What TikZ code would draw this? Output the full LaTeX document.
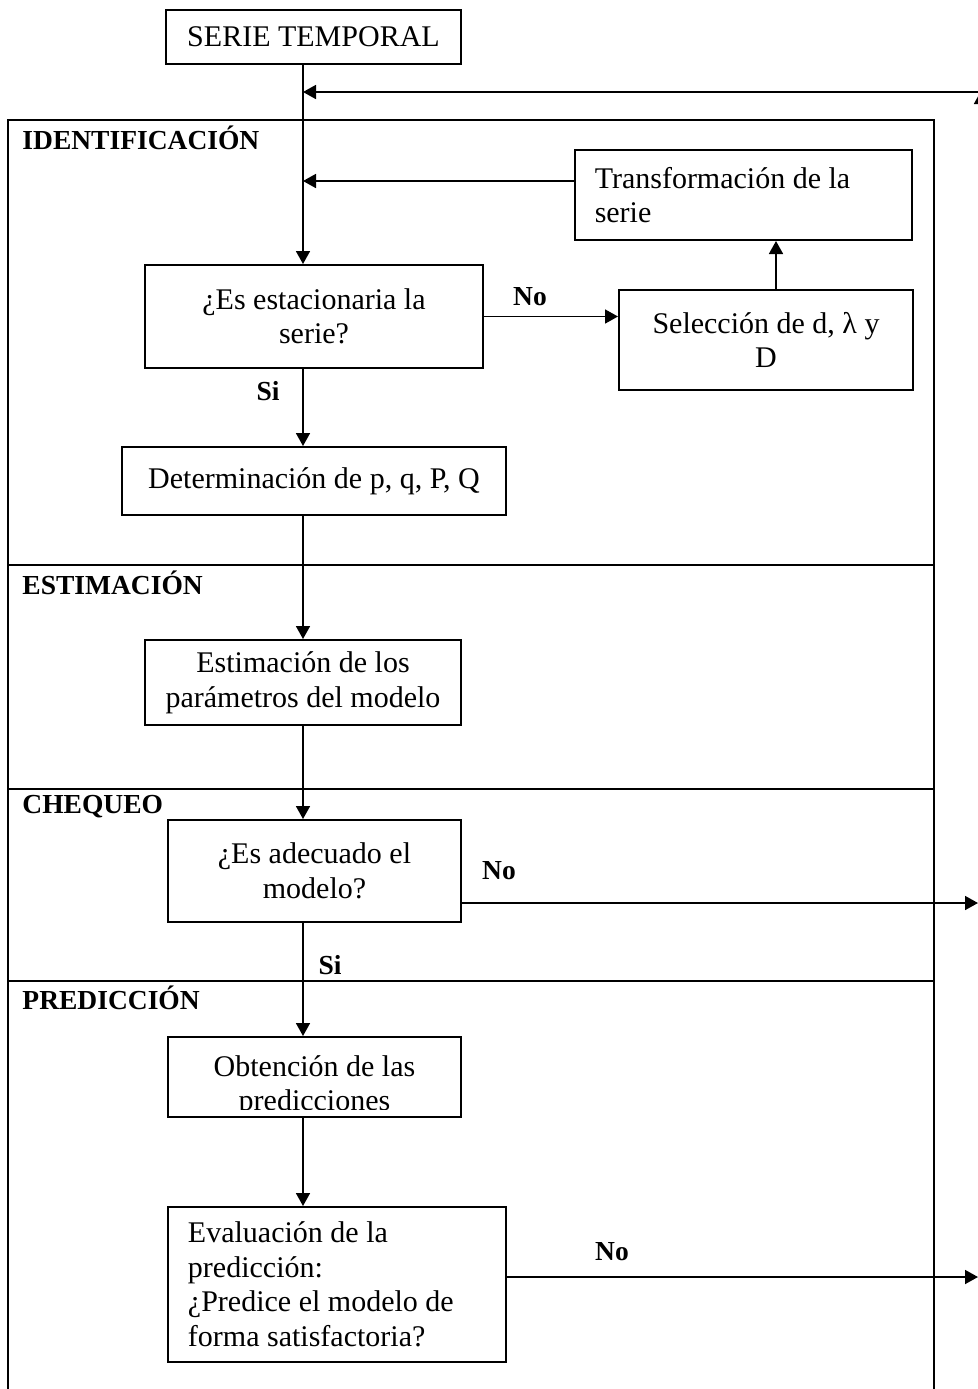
\documentclass[tikz,border=0pt]{standalone}
\usepackage{fontspec}
\setmainfont{Liberation Serif}
\usetikzlibrary{arrows.meta}
\tikzset{
  caja/.style={draw, line width=0.8pt, inner sep=0pt, align=center,
    font=\fontsize{12}{13.8}\selectfont},
  cajaizq/.style={caja, align=flush left, inner xsep=8pt},
  etapa/.style={anchor=west, inner sep=0pt, font=\fontsize{11}{13}\selectfont\bfseries},
  resp/.style={inner sep=0pt, font=\fontsize{11}{13}\selectfont\bfseries},
  flecha/.style={->, line width=0.7pt},
}
\begin{document}
\begin{tikzpicture}[x=0.4pt,y=-0.4pt,>={Triangle[length=5.2pt,width=5.6pt]}]
\useasboundingbox (0,0) rectangle (978,1389);
\clip (0,0) rectangle (978,1389);
% marco y etapas
\draw[line width=0.8pt] (8,1400) -- (8,120) -- (934,120) -- (934,1400);
\foreach \y in {565,789,981}
  \draw[line width=0.8pt] (8,\y) -- (934,\y);
\node[etapa] (ident) at (22,138) {IDENTIFICACIÓN};
\node[etapa] (estim0) at (22,583) {ESTIMACIÓN};
\node[etapa] (cheq) at (22,807) {CHEQUEO};
\node[etapa] (pred) at (22,998) {PREDICCIÓN};
% cajas
\node[caja, minimum width=118pt, minimum height=21.6pt] (serie) at (313.5,37) {SERIE TEMPORAL};
\node[cajaizq, text width=119pt, minimum height=36pt] (transf) at (743.5,195)
  {Transformación de la\\serie};
\node[caja, minimum width=135.2pt, minimum height=41.2pt] (estac) at (314,316.5)
  {¿Es estacionaria la\\serie?};
\node[caja, minimum width=117.6pt, minimum height=40pt] (selec) at (766,340)
  {Selección de d, λ y\\D};
\node[caja, minimum width=153.6pt, minimum height=27.2pt] (determ) at (314,481)
  {Determinación de p, q, P, Q};
\node[caja, minimum width=126.4pt, minimum height=34pt] (estim) at (303,682.5)
  {Estimación de los\\parámetros del modelo};
\node[caja, minimum width=117.2pt, minimum height=40.8pt] (adec) at (314.5,871)
  {¿Es adecuado el\\modelo?};
\begin{scope}
  \clip (168,1037) rectangle (461,1109);
  \node[caja, draw=none] (obtentxt) at (314.5,1086) {Obtención de las\\predicciones};
\end{scope}
\node[caja, minimum width=117.2pt, minimum height=32pt] (obten) at (314.5,1077) {};
\node[cajaizq, text width=119.2pt, minimum height=62pt] (evalu) at (337,1284.5)
  {Evaluación de la\\predicción:\\¿Predice el modelo de\\forma satisfactoria?};
% conectores
\coordinate (eje) at (303,0);
\coordinate (ret) at (978,92);
\coordinate (retsub) at (981,1277);
\coordinate (retarr) at (981,91);
\coordinate (sal1) at (978,903);
\coordinate (sal2) at (978,1277);
\draw[flecha] (serie.south -| eje) -- (estac.north -| eje);
\draw[flecha] (ret) -- (ret -| eje);
\draw[flecha] (retsub) -- (retarr);
\draw[flecha] ([yshift=5.6pt]transf.west) -- ([yshift=5.6pt]transf.west -| eje);
\draw[flecha] (estac.east) -- (estac.east -| selec.west);
\draw[flecha] ([xshift=4pt]selec.north) -- ([xshift=4pt]selec.north |- transf.south);
\draw[flecha] (estac.south -| eje) -- (determ.north -| eje);
\draw[flecha] (determ.south -| eje) -- (estim.north -| eje);
\draw[flecha] (estim.south -| eje) -- (adec.north -| eje);
\draw[flecha] (adec.east |- sal1) -- (sal1);
\draw[flecha] (adec.south -| eje) -- (obten.north -| eje);
\draw[flecha] (obten.south -| eje) -- (evalu.north -| eje);
\draw[flecha] (evalu.east |- sal2) -- (sal2);
% respuestas
\node[resp] (no1) at (530,297) {No};
\node[resp] (si1) at (268,391) {Si};
\node[resp] (no2) at (499,871) {No};
\node[resp] (si2) at (330,965) {Si};
\node[resp] (no3) at (612,1252) {No};
\end{tikzpicture}
\end{document}
